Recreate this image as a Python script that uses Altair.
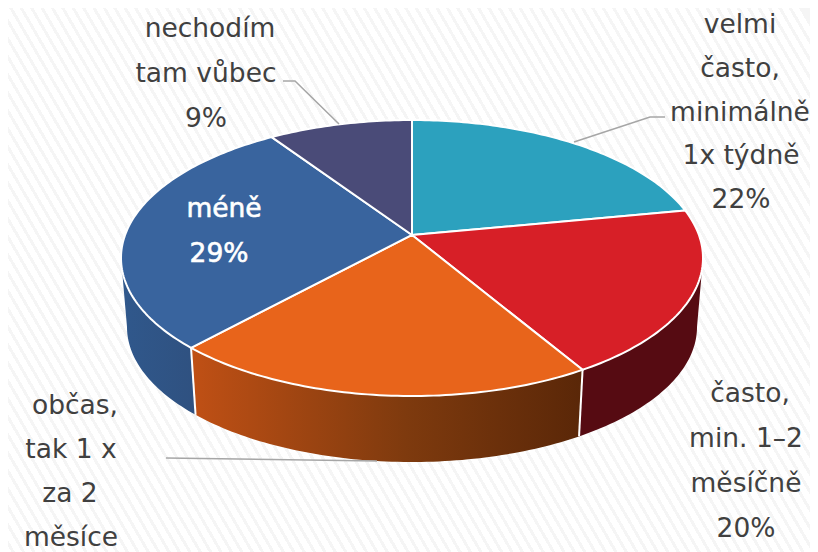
import math
import altair as alt
import pandas as pd

# --- data -----------------------------------------------------------------
names = ["velmi často", "často", "občas", "méně", "nechodím"]
shares = [22, 19.5, 20.3, 28.8, 9.4]   # slice sizes as drawn (labels show rounded values)
label_lines = [
    ["velmi", "často,", "minimálně", "1x týdně", "22%"],
    ["často,", "min. 1–2", "měsíčně", "20%"],
    ["občas,", "tak 1 x", "za 2", "měsíce"],
    ["méně", "29%"],
    ["nechodím", "tam vůbec", "9%"],
]
top_colors = ["#2CA1BE", "#D71F27", "#E8641B", "#39649E", "#4A4B78"]

# --- layout (page pixels minus the 8px margin) -----------------------------
M = 8
W, H = 802, 544
CX = 412 - M
TOP = dict(a=291, b=138, cy=258 - M)
BOT = dict(a=285, b=135, cy=327 - M)
K = 0.167          # perspective of the tilted disc
FONT_SIZE = 26.5
label_x = [
    [740, 740, 740, 741, 741],
    [750, 746, 746, 746],
    [75, 71, 70, 71],
    [224, 219],
    [210, 206, 206],
]
label_y0 = [33, 402, 414, 217, 37]
label_step = [43.75, 45, 44, 45, 45]
leaders = [
    [(574, 142), (650, 117), (665, 117)],
    [(166, 458), (377, 461)],
    [(283, 81), (295, 81), (339, 124)],
]


def rim(theta_deg, a, b, cy):
    t = math.radians(theta_deg)
    u, v = math.sin(t), math.cos(t)
    d = 1 + K * v
    return (CX + a * u * math.sqrt(1 - K * K) / d, cy - b * (v + K) / d)


def arc_pts(t0, t1, ring):
    n = max(2, int(abs(t1 - t0)))
    return [rim(t0 + (t1 - t0) * i / n, **ring) for i in range(n + 1)]


total = sum(shares)
edges = [0.0]
for s in shares:
    edges.append(edges[-1] + s / total * 360)

# angles at which the disc's outline is widest: the wall's silhouette stops there
tan_right = math.degrees(math.acos(-K))
tan_left = 360 - tan_right


def feature(name, ring):
    return {
        "type": "Feature",
        "properties": {"name": name},
        "geometry": {"type": "Polygon", "coordinates": [[list(p) for p in ring] + [list(ring[0])]]},
    }


# background stripes
period, stripe = 9.0, 3.0
span = 1.366 * W
stops, pos = [], 0.0
while pos + period < span:
    stops += [
        alt.GradientStop(offset=pos / span, color="#FFFFFF"),
        alt.GradientStop(offset=(pos + period - stripe) / span, color="#FFFFFF"),
        alt.GradientStop(offset=(pos + period - stripe) / span, color="#F5F5F5"),
        alt.GradientStop(offset=(pos + period) / span, color="#F5F5F5"),
    ]
    pos += period
back = alt.Chart(pd.DataFrame({"a": [0]})).mark_rect(
    fill=alt.LinearGradient(gradient="linear", x1=0, y1=1, x2=1.183, y2=0.317, stops=stops)
).encode(x=alt.value(0), x2=alt.value(W), y=alt.value(0), y2=alt.value(W))

# side walls
wall_styles = {
    1: [("#560B12", 0), ("#560B12", 1)],
    2: [("#C05015", 0), ("#7E3A0E", 0.55), ("#5A2708", 1)],
    3: [("#30588C", 0), ("#2F5180", 1)],
}
wall_spans = {
    1: (max(edges[1], tan_right), edges[2]),
    2: (edges[2], edges[3]),
    3: (edges[3], min(edges[4], tan_left)),
}
walls = []
for i in [3, 1, 2]:
    t0, t1 = wall_spans[i]
    poly = arc_pts(t0, t1, TOP) + arc_pts(t1, t0, BOT)
    walls.append(
        alt.Chart(alt.Data(values=[feature(names[i], poly)])).mark_geoshape(
            fill=alt.LinearGradient(
                gradient="linear", x1=0, y1=0, x2=1, y2=0,
                stops=[alt.GradientStop(offset=o, color=c) for c, o in wall_styles[i]],
            ),
            strokeWidth=0,
        ).project(type="identity", scale=1, translate=[0, 0])
    )

# dividers on the wall
div_rows = []
for j, t in enumerate([edges[2], edges[3]]):
    for p in (rim(t, **TOP), rim(t, **BOT)):
        div_rows.append({"g": j, "x": p[0], "y": p[1]})
dividers = alt.Chart(pd.DataFrame(div_rows)).mark_line(color="#FFFFFF", strokeWidth=2).encode(
    x=alt.X("x:Q", scale=None, axis=None), y=alt.Y("y:Q", scale=None, axis=None), detail="g:N"
)

# top face
centre = (CX, TOP["cy"] - TOP["b"] * K)
feats = []
for i, n in enumerate(names):
    feats.append(feature(n, [centre] + arc_pts(edges[i], edges[i + 1], TOP)))
top = alt.Chart(alt.Data(values=feats)).mark_geoshape(
    stroke="#FFFFFF", strokeWidth=2, strokeJoin="round"
).encode(
    fill=alt.Color("properties.name:N", scale=alt.Scale(domain=names, range=top_colors), legend=None)
).project(type="identity", scale=1, translate=[0, 0])

# leader lines
lead_rows = []
for g, seg in enumerate(leaders):
    for x, y in seg:
        lead_rows.append({"g": g, "x": x - M, "y": y - M})
lead = alt.Chart(pd.DataFrame(lead_rows)).mark_line(color="#A6A6A6", strokeWidth=1.5).encode(
    x=alt.X("x:Q", scale=None, axis=None), y=alt.Y("y:Q", scale=None, axis=None), detail="g:N"
)

# labels
dark_rows, light_rows = [], []
for i, lines in enumerate(label_lines):
    rows = light_rows if names[i] == "méně" else dark_rows
    for k, s in enumerate(lines):
        rows.append({"t": s, "x": label_x[i][k] - M, "y": label_y0[i] - M + k * label_step[i]})
enc = dict(
    x=alt.X("x:Q", scale=None, axis=None),
    y=alt.Y("y:Q", scale=None, axis=None),
    text="t:N",
)
dark = alt.Chart(pd.DataFrame(dark_rows)).mark_text(
    font="DejaVu Sans", fontSize=FONT_SIZE, align="center", baseline="alphabetic", color="#404040"
).encode(**enc)
light = alt.Chart(pd.DataFrame(light_rows)).mark_text(
    font="DejaVu Sans", fontSize=FONT_SIZE, align="center", baseline="alphabetic",
    color="#FFFFFF", stroke="#FFFFFF", strokeWidth=0.6,
).encode(**enc)

chart = alt.layer(back, *walls, dividers, top, lead, dark, light).properties(
    width=W, height=H, padding=0, autosize="none", background="#FFFFFF"
).configure_view(stroke=None)

chart.save("out.html", embed_options={"renderer": "svg", "actions": False})
